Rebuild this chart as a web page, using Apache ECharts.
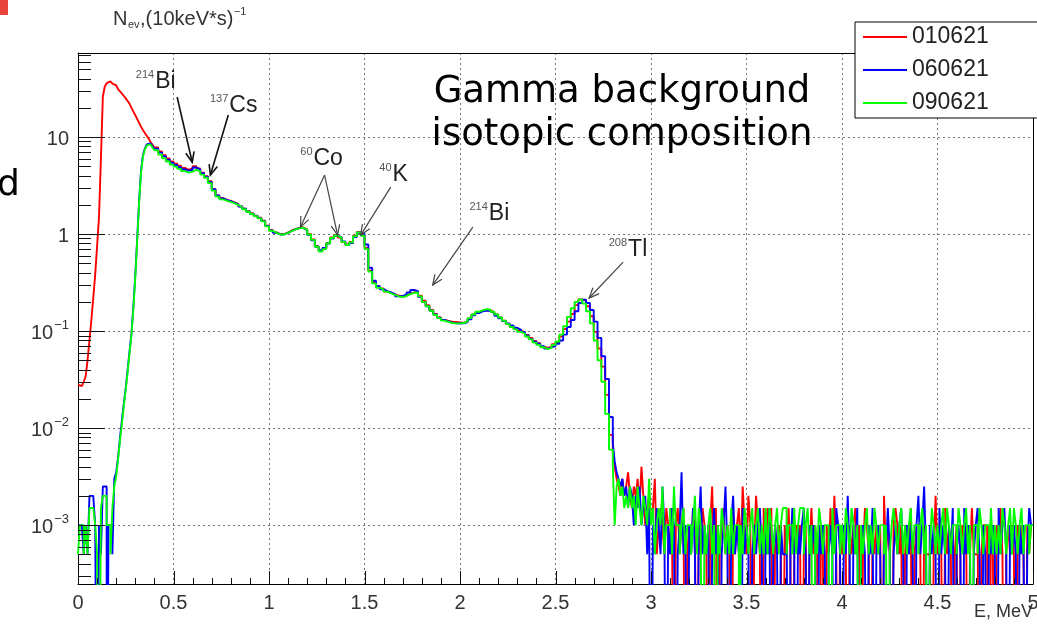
<!DOCTYPE html>
<html>
<head>
<meta charset="utf-8">
<title>Gamma background isotopic composition</title>
<script src="https://cdn.jsdelivr.net/npm/echarts@6/dist/echarts.min.js"></script>
<style>
html, body { margin: 0; padding: 0; background: #fff; }
#chart { width: 1037px; height: 632px; }
</style>
</head>
<body>
<div id="chart"></div>
<script>
// three background runs: 01.06.21, 06.06.21, 09.06.21
var seriesNames = ['010621', '060621', '090621'];
var seriesColors = ['#ff0000', '#0000ff', '#00ff00'];

// axis range (log y)
var Y_MIN = 2.47e-4;
var Y_MAX = 73.5;

// one count in a 10 keV bin -> rate
var COUNT = 0.0005;
// empty bin, drawn below the axis bottom
var EMPTY = 1e-6;

// 0.00 - 0.39 MeV, 10 keV bins
var redLow = [
  0.028, 0.027, 0.028, 0.030, 0.034, 0.050, 0.080, 0.13, 0.22, 0.38,
  0.75, 1.5, 6.0, 26, 33, 36, 37.5, 37, 35.5, 34,
  32.5, 31, 29.5, 28, 26.5, 25, 23.5, 22, 20, 18.3,
  16.8, 15.3, 14, 12.8, 11.8, 11, 10.3, 9.6, 8.9, 8.3
];
var blueLow = [
  0.001, 0.001, 0.001, 0.0005, 0.001, 0.0005, 0.002, 0.002, 0.002, 0.001,
  0, 0.001, 0.0005, 0.0025, 0.0025, 0, 0.001, 0.001, 0.0005, 0.003,
  0.0035, 0.005, 0.008, 0.012, 0.018, 0.026, 0.040, 0.062, 0.095, 0.18,
  0.38, 0.90, 2.2, 4.5, 6.5, 7.6, 8.4, 8.6, 8.3, 8.0
];
var greenLow = [
  0.0005, 0.001, 0.001, 0.0005, 0.001, 0.0005, 0.0015, 0.0015, 0.0015, 0.001,
  0.0005, 0, 0.0015, 0.002, 0.002, 0.001, 0.001, 0.0005, 0.0015, 0.0025,
  0.0032, 0.0048, 0.0075, 0.011, 0.017, 0.025, 0.038, 0.060, 0.092, 0.17,
  0.36, 0.85, 2.1, 4.3, 6.3, 7.4, 8.2, 8.4, 8.1, 7.8
];

// 0.40 - 2.78 MeV, read every 20 keV
var redMid = [
  7.8, 7.1, 6.5, 6.0, 5.6, 5.3, 5.05, 4.8, 4.6, 4.75,
  5.0, 4.75, 4.3, 3.95, 3.5, 2.9, 2.5, 2.35, 2.25, 2.2,
  2.12, 2.03, 1.93, 1.83, 1.72, 1.63, 1.55, 1.47, 1.37, 1.22,
  1.1, 1.04, 1.0, 1.0, 1.04, 1.09, 1.13, 1.16, 1.17, 1.12,
  1.0, 0.88, 0.75, 0.67, 0.71, 0.81, 0.92, 0.97, 0.92, 0.83,
  0.78, 0.83, 0.96, 1.05, 0.98, 0.72, 0.42, 0.32, 0.29, 0.275,
  0.255, 0.247, 0.238, 0.232, 0.226, 0.232, 0.242, 0.25, 0.255, 0.232,
  0.205, 0.185, 0.165, 0.15, 0.138, 0.13, 0.127, 0.125, 0.124, 0.123,
  0.122, 0.125, 0.135, 0.148, 0.157, 0.162, 0.165, 0.163, 0.157, 0.148,
  0.138, 0.128, 0.118, 0.112, 0.106, 0.101, 0.097, 0.091, 0.085, 0.079,
  0.075, 0.069, 0.067, 0.069, 0.073, 0.077, 0.088, 0.105, 0.125, 0.15,
  0.185, 0.212, 0.205, 0.18, 0.142, 0.098, 0.066, 0.043, 0.022, 0.0085
];
var blueMid = [
  7.6, 6.9, 6.35, 5.85, 5.45, 5.15, 4.9, 4.65, 4.5, 4.6,
  4.85, 4.65, 4.25, 3.9, 3.45, 2.9, 2.5, 2.33, 2.24, 2.18,
  2.1, 2.02, 1.92, 1.82, 1.71, 1.62, 1.54, 1.46, 1.36, 1.21,
  1.09, 1.03, 0.99, 0.99, 1.03, 1.08, 1.12, 1.15, 1.15, 1.1,
  0.98, 0.86, 0.74, 0.68, 0.72, 0.8, 0.9, 0.96, 0.93, 0.84,
  0.77, 0.81, 0.93, 1.03, 1.0, 0.78, 0.45, 0.33, 0.29, 0.27,
  0.258, 0.25, 0.24, 0.228, 0.23, 0.238, 0.25, 0.265, 0.258, 0.225,
  0.2, 0.18, 0.162, 0.148, 0.137, 0.13, 0.126, 0.122, 0.12, 0.121,
  0.12, 0.124, 0.132, 0.145, 0.153, 0.16, 0.163, 0.16, 0.153, 0.144,
  0.135, 0.127, 0.12, 0.114, 0.108, 0.103, 0.098, 0.09, 0.083, 0.078,
  0.074, 0.07, 0.066, 0.068, 0.07, 0.074, 0.08, 0.092, 0.11, 0.13,
  0.16, 0.195, 0.21, 0.195, 0.165, 0.125, 0.085, 0.055, 0.032, 0.013
];
var greenMid = [
  7.3, 6.6, 6.05, 5.6, 5.2, 4.95, 4.7, 4.45, 4.3, 4.4,
  4.6, 4.45, 4.1, 3.8, 3.35, 2.8, 2.43, 2.28, 2.2, 2.15,
  2.07, 1.99, 1.9, 1.8, 1.7, 1.61, 1.53, 1.45, 1.35, 1.2,
  1.08, 1.03, 0.99, 0.99, 1.03, 1.08, 1.12, 1.15, 1.16, 1.11,
  0.99, 0.87, 0.74, 0.66, 0.7, 0.8, 0.91, 0.96, 0.92, 0.83,
  0.77, 0.82, 0.95, 1.04, 0.96, 0.7, 0.41, 0.31, 0.28, 0.268,
  0.255, 0.245, 0.236, 0.228, 0.224, 0.23, 0.24, 0.248, 0.25, 0.228,
  0.2, 0.18, 0.162, 0.147, 0.136, 0.128, 0.124, 0.121, 0.12, 0.12,
  0.121, 0.126, 0.136, 0.148, 0.158, 0.164, 0.168, 0.166, 0.158, 0.148,
  0.138, 0.128, 0.118, 0.11, 0.104, 0.098, 0.094, 0.088, 0.082, 0.076,
  0.072, 0.068, 0.065, 0.067, 0.072, 0.078, 0.092, 0.112, 0.14, 0.172,
  0.2, 0.212, 0.192, 0.16, 0.12, 0.08, 0.05, 0.03, 0.014, 0.006
];

// 2.80 - 4.99 MeV, counts per 10 keV bin
var redTail = [
  11, 8, 6, 5, 4, 6, 4, 5, 7, 4,
  3, 5, 4, 6, 3, 8, 4, 2, 3, 4,
  2, 3, 6, 1, 2, 3, 2, 1, 3, 2,
  1, 2, 0, 2, 3, 1, 2, 3, 0, 1,
  2, 1, 3, 2, 0, 2, 1, 3, 2, 1,
  0, 2, 5, 1, 3, 0, 1, 2, 3, 1,
  2, 1, 0, 3, 1, 2, 3, 1, 5, 2,
  1, 4, 2, 0, 1, 4, 2, 1, 0, 3,
  1, 3, 1, 3, 0, 2, 1, 2, 1, 0,
  2, 1, 3, 1, 0, 1, 2, 1, 2, 0,
  1, 2, 0, 1, 3, 1, 2, 1, 0, 2,
  1, 0, 2, 1, 3, 1, 4, 1, 0, 2,
  1, 2, 1, 0, 2, 1, 2, 3, 1, 2,
  0, 1, 3, 2, 1, 0, 2, 1, 2, 1,
  2, 0, 4, 1, 2, 1, 0, 2, 3, 2,
  1, 2, 0, 1, 2, 1, 3, 0, 1, 2,
  2, 1, 0, 2, 1, 1, 2, 0, 1, 4,
  1, 2, 1, 0, 3, 1, 2, 1, 0, 1,
  2, 0, 1, 2, 1, 2, 0, 1, 3, 1,
  1, 2, 0, 1, 2, 2, 1, 0, 2, 1,
  0, 2, 1, 3, 1, 0, 1, 2, 1, 2,
  1, 0, 2, 1, 2, 1, 0, 2, 1, 2
];
var blueTail = [
  14, 9, 7, 6, 5, 6, 4, 5, 3, 5,
  4, 2, 4, 3, 5, 2, 3, 4, 1, 3,
  0, 2, 1, 3, 2, 1, 5, 2, 0, 2,
  1, 3, 2, 0, 1, 2, 7, 1, 2, 0,
  2, 1, 3, 1, 0, 2, 5, 1, 2, 1,
  2, 0, 1, 3, 1, 2, 0, 1, 2, 5,
  1, 0, 2, 4, 1, 2, 1, 0, 3, 1,
  2, 1, 0, 1, 2, 1, 2, 3, 1, 0,
  2, 1, 3, 0, 1, 2, 1, 0, 2, 1,
  1, 2, 0, 1, 3, 1, 0, 2, 1, 2,
  3, 1, 0, 2, 1, 2, 1, 0, 2, 1,
  2, 1, 0, 1, 2, 1, 0, 3, 2, 1,
  0, 2, 1, 4, 1, 0, 2, 1, 3, 0,
  1, 2, 1, 0, 2, 1, 3, 0, 1, 2,
  1, 0, 2, 1, 3, 1, 0, 1, 2, 1,
  2, 3, 1, 0, 2, 1, 2, 1, 0, 2,
  4, 1, 2, 5, 1, 0, 2, 1, 2, 1,
  0, 3, 1, 2, 1, 0, 2, 1, 3, 0,
  1, 2, 1, 0, 3, 1, 2, 1, 0, 1,
  2, 3, 1, 0, 2, 1, 0, 2, 1, 2,
  1, 0, 3, 1, 2, 3, 1, 0, 2, 1,
  2, 1, 0, 2, 1, 2, 0, 1, 3, 2
];
var greenTail = [
  8, 2, 5, 6, 4, 5, 3, 4, 3, 5,
  3, 4, 2, 5, 3, 2, 4, 3, 2, 6,
  2, 3, 1, 2, 3, 2, 5, 1, 2, 2,
  3, 1, 5, 2, 2, 1, 2, 3, 1, 2,
  2, 1, 2, 4, 1, 3, 2, 0, 2, 1,
  2, 3, 1, 2, 0, 2, 1, 3, 2, 1,
  2, 1, 3, 1, 2, 2, 0, 2, 1, 3,
  2, 1, 2, 3, 1, 2, 3, 1, 2, 1,
  3, 1, 3, 2, 1, 2, 3, 1, 2, 3,
  3, 1, 2, 2, 1, 3, 1, 2, 3, 3,
  1, 2, 3, 1, 2, 0, 2, 1, 3, 2,
  1, 2, 2, 1, 0, 3, 1, 2, 2, 1,
  2, 1, 3, 2, 1, 3, 2, 1, 2, 0,
  2, 1, 2, 3, 1, 2, 1, 3, 2, 1,
  2, 2, 1, 2, 0, 1, 2, 3, 2, 1,
  2, 3, 1, 2, 1, 2, 3, 1, 2, 2,
  1, 2, 3, 1, 2, 0, 1, 3, 2, 1,
  2, 1, 2, 3, 1, 3, 2, 1, 2, 2,
  1, 3, 2, 1, 2, 3, 1, 2, 0, 2,
  2, 1, 3, 2, 1, 2, 2, 1, 3, 1,
  2, 1, 2, 1, 3, 2, 1, 2, 3, 1,
  3, 2, 1, 2, 3, 1, 2, 2, 1, 2
];

// isotope labels: text anchor [E, N], arrows [fromE, fromN, toE, toN]
var annotations = [
  { iso: '214', name: 'Bi', at: [0.404, 36.9], arrows: [[0.519, 25.9, 0.598, 5.5]], dark: true },
  { iso: '137', name: 'Cs', at: [0.792, 20.9], arrows: [[0.787, 16.9, 0.693, 4.06]], dark: true },
  { iso: '60', name: 'Co', at: [1.233, 5.93], arrows: [[1.291, 4.06, 1.165, 1.18], [1.291, 4.06, 1.359, 0.976]] },
  { iso: '40', name: 'K', at: [1.647, 4.06], arrows: [[1.637, 3.05, 1.480, 0.976]] },
  { iso: '214', name: 'Bi', at: [2.151, 1.61], arrows: [[2.067, 1.18, 1.857, 0.298]] },
  { iso: '208', name: 'Tl', at: [2.880, 0.684], arrows: [[2.854, 0.514, 2.676, 0.219]] }
];

// labelled axis values
var yDecades = [0.001, 0.01, 0.1, 1, 10];
var xLabels = [0, 0.5, 1, 1.5, 2, 2.5, 3, 3.5, 4, 4.5, 5];

function toBins(start, step, values, scale) {
  return values.map(function (v, i) {
    var y = v * (scale || 1);
    return [+(start + i * step).toFixed(2), y > 0 ? y : EMPTY];
  });
}

function spectrum(low, mid, tail) {
  var d = toBins(0, 0.01, low).concat(toBins(0.40, 0.02, mid), toBins(2.80, 0.01, tail, COUNT));
  d.push([5.0, d[d.length - 1][1]]);   // close last bin
  return d;
}

var spectra = [
  spectrum(redLow, redMid, redTail),
  spectrum(blueLow, blueMid, blueTail),
  spectrum(greenLow, greenMid, greenTail)
];

var FONT = 'Liberation Sans';
var LABEL_FONT = '20px "' + FONT + '"';
var SUP_FONT = '13px "' + FONT + '"';
var TICK = { stroke: '#111', lineWidth: 1 };

var measureCtx = document.createElement('canvas').getContext('2d');
function textWidth(text, font) {
  measureCtx.font = font;
  return measureCtx.measureText(text).width;
}

function hTick(api, v, len) {
  var p = api.coord([0, v]);
  var y = Math.round(p[1]) + 0.5;
  return { type: 'line', shape: { x1: p[0], y1: y, x2: p[0] + len, y2: y }, style: TICK };
}

function vTick(api, e, len) {
  var p = api.coord([e, Y_MIN]);
  var x = Math.round(p[0]) + 0.5;
  return { type: 'line', shape: { x1: x, y1: p[1], x2: x, y2: p[1] - len }, style: TICK };
}

// y decade: label 10^k plus ROOT style ticks (long at 10^k, short at 2..9 x 10^k)
function renderYDecade(params, api) {
  var v = yDecades[params.dataIndex];
  var p = api.coord([0, v]);
  var e = Math.round(Math.log(v) / Math.LN10);
  var right = p[0] - 9;
  var base = e === 0 ? '1' : '10';
  var sup = e < 0 ? '\u2212' + (-e) : '';
  var supW = sup ? textWidth(sup, SUP_FONT) + 1 : 0;
  var children = [{ type: 'text', x: right - supW, y: p[1] + 2,
    style: { text: base, font: LABEL_FONT, fill: '#333', align: 'right', verticalAlign: 'middle' } }];
  if (sup) {
    children.push({ type: 'text', x: right, y: p[1] - 6,
      style: { text: sup, font: SUP_FONT, fill: '#333', align: 'right', verticalAlign: 'middle' } });
  }
  children.push(hTick(api, v, 27));
  for (var m = 2; m <= 9; m++) {
    if (m * v <= Y_MAX) children.push(hTick(api, m * v, 13));
    if (params.dataIndex === 0 && m * v / 10 >= Y_MIN) children.push(hTick(api, m * v / 10, 13));
  }
  return { type: 'group', children: children };
}

// x label every 0.5 MeV plus ticks (long at label, short every 0.1 MeV)
function renderXLabel(params, api) {
  var e = xLabels[params.dataIndex];
  var p = api.coord([e, Y_MIN]);
  var children = [{ type: 'text', x: p[0], y: p[1] + 9,
    style: { text: String(e), font: LABEL_FONT, fill: '#333', align: 'center', verticalAlign: 'top' } }];
  children.push(vTick(api, e, 13));
  if (e < 5) {
    for (var s = 1; s <= 4; s++) children.push(vTick(api, +(e + s * 0.1).toFixed(1), 6));
  }
  return { type: 'group', children: children };
}

function renderNote(params, api) {
  var a = annotations[params.dataIndex];
  var p = api.coord(a.at);
  var stroke = a.dark ? '#111' : '#444';
  var lw = a.dark ? 1.6 : 1.2;
  var children = [
    { type: 'text', x: p[0] - 1, y: p[1] - 7,
      style: { text: a.iso, fill: '#555', font: '11px "' + FONT + '"', align: 'right', verticalAlign: 'middle' } },
    { type: 'text', x: p[0], y: p[1],
      style: { text: a.name, fill: '#222', font: '23px "' + FONT + '"', align: 'left', verticalAlign: 'middle' } }
  ];
  a.arrows.forEach(function (ar) {
    var s = api.coord([ar[0], ar[1]]);
    var e = api.coord([ar[2], ar[3]]);
    var ang = Math.atan2(e[1] - s[1], e[0] - s[0]);
    var h = 11, w = 0.4;
    children.push({ type: 'line', shape: { x1: s[0], y1: s[1], x2: e[0], y2: e[1] },
      style: { stroke: stroke, lineWidth: lw } });
    children.push({ type: 'polyline', shape: { points: [
        [e[0] - h * Math.cos(ang - w), e[1] - h * Math.sin(ang - w)],
        [e[0], e[1]],
        [e[0] - h * Math.cos(ang + w), e[1] - h * Math.sin(ang + w)]
      ] }, style: { stroke: stroke, fill: null, lineWidth: lw } });
  });
  return { type: 'group', children: children };
}

// axis title N_ev,(10keV*s)^-1 in pieces
var titleFont = '20px "' + FONT + '"';
var smallFont = '11px "' + FONT + '"';
var tx = 113;
var titleParts = [];
titleParts.push({ type: 'text', x: tx, y: 19, style: { text: 'N', font: titleFont, fill: '#333', align: 'left', verticalAlign: 'middle' } });
tx += textWidth('N', titleFont) + 0.5;
titleParts.push({ type: 'text', x: tx, y: 25, style: { text: 'ev', font: smallFont, fill: '#333', align: 'left', verticalAlign: 'middle' } });
tx += textWidth('ev', smallFont) + 0.5;
titleParts.push({ type: 'text', x: tx, y: 19, style: { text: ',(10keV*s)', font: titleFont, fill: '#333', align: 'left', verticalAlign: 'middle' } });
tx += textWidth(',(10keV*s)', titleFont) + 0.5;
titleParts.push({ type: 'text', x: tx, y: 12, style: { text: '\u22121', font: smallFont, fill: '#333', align: 'left', verticalAlign: 'middle' } });

var chart = echarts.init(document.getElementById('chart'));

var series = seriesNames.map(function (name, i) {
  return {
    name: name,
    type: 'line',
    data: spectra[i],
    step: 'end',
    symbol: 'none',
    silent: true,
    z: 2 + i,
    lineStyle: { color: seriesColors[i], width: 1.9 },
    itemStyle: { color: seriesColors[i] }
  };
});

series.push({ type: 'custom', renderItem: renderYDecade, data: yDecades.map(function (v) { return [0, v]; }), silent: true, clip: false, z: 7 });
series.push({ type: 'custom', renderItem: renderXLabel, data: xLabels.map(function (e) { return [e, Y_MIN]; }), silent: true, clip: false, z: 7 });
series.push({ type: 'custom', renderItem: renderNote, data: annotations.map(function (a) { return a.at; }), silent: true, clip: false, z: 7 });

var gridLine = { show: true, lineStyle: { color: '#777', type: [2, 3], width: 1 } };

var option = {
  animation: false,
  textStyle: { fontFamily: FONT },
  legend: {
    data: seriesNames,
    orient: 'vertical',
    left: 855,
    top: 22,
    padding: [3, 52, 3, 8],
    itemGap: 9,
    itemWidth: 44,
    itemHeight: 2,
    icon: 'rect',
    backgroundColor: '#fff',
    borderColor: '#000',
    borderWidth: 1,
    borderRadius: 0,
    selectedMode: false,
    z: 10,
    textStyle: { fontFamily: FONT, fontSize: 23, color: '#222', lineHeight: 24 }
  },
  grid: {
    left: 78,
    right: 4,
    top: 53,
    bottom: 48,
    show: false,
    containLabel: false,
    outerBoundsMode: 'none'
  },
  xAxis: [{
    type: 'value',
    min: 0,
    max: 5,
    interval: 0.5,
    axisLine: { onZero: false, lineStyle: { color: '#000', width: 1 } },
    axisTick: { show: false },
    minorTick: { show: false },
    splitLine: gridLine,
    axisLabel: { show: false }
  }, {
    type: 'value', min: 0, max: 5, position: 'top',
    axisLine: { show: true, onZero: false, lineStyle: { color: '#000', width: 1 } },
    axisTick: { show: false }, minorTick: { show: false }, axisLabel: { show: false }, splitLine: { show: false }
  }],
  yAxis: [{
    type: 'log',
    logBase: 10,
    min: Y_MIN,
    max: Y_MAX,
    axisLine: { show: true, lineStyle: { color: '#000', width: 1 } },
    axisTick: { show: false },
    splitLine: gridLine,
    axisLabel: { show: false }
  }, {
    type: 'log', logBase: 10, min: Y_MIN, max: Y_MAX, position: 'right',
    axisLine: { show: true, onZero: false, lineStyle: { color: '#000', width: 1 } },
    axisTick: { show: false }, minorTick: { show: false }, axisLabel: { show: false }, splitLine: { show: false }
  }],
  graphic: titleParts.concat([
    { type: 'rect', shape: { x: 0, y: 0, width: 8, height: 15 }, style: { fill: '#e8453c' } },
    { type: 'text', x: -3, y: 186,
      style: { text: 'd', font: '36px "DejaVu Sans"', fill: '#000', align: 'left', verticalAlign: 'middle' } },
    { type: 'text', x: 622, y: 114, z: 20,
      style: { text: 'Gamma background\nisotopic composition', font: '37px "DejaVu Sans"', fill: '#000',
        align: 'center', verticalAlign: 'middle', lineHeight: 43 } },
    { type: 'text', x: 1033, y: 612,
      style: { text: 'E, MeV', font: '18px "' + FONT + '"', fill: '#333', align: 'right', verticalAlign: 'middle' } }
  ]),
  series: series
};

chart.setOption(option);
</script>
</body>
</html>
